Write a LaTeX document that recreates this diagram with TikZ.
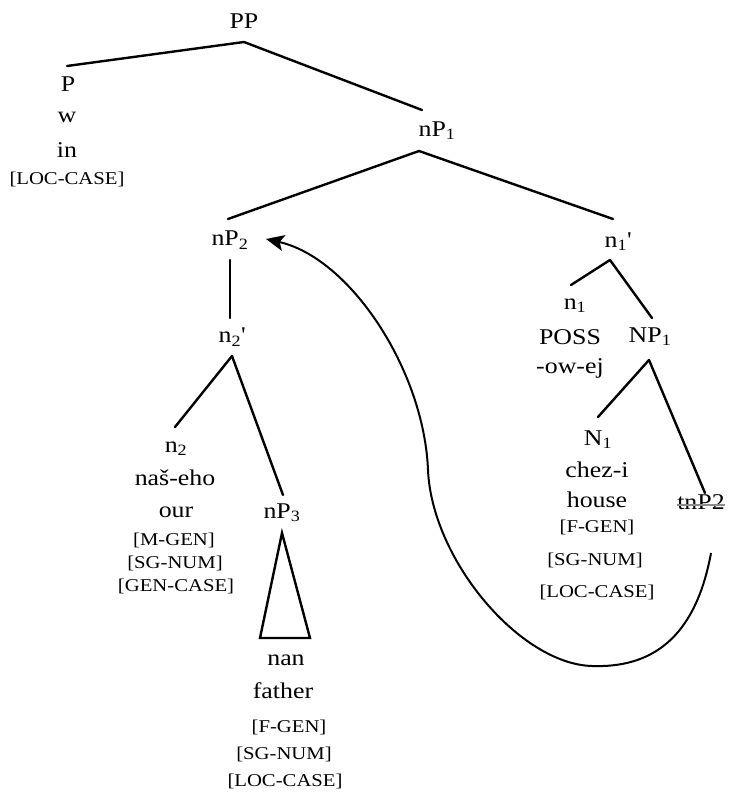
\documentclass[tikz,border=0pt]{standalone}
\usepackage{fontspec}
\setmainfont{Liberation Serif}[FakeStretch=1.15]
\usepackage{tikz}
\usetikzlibrary{arrows.meta,calc}
\usepackage{xcolor}
\definecolor{traceink}{HTML}{8C8C8C}
\tikzset{
  catnode/.style={
    inner sep=0pt,
    font=\fontsize{22.5}{26}\selectfont
  },
  featnode/.style={
    inner sep=0pt,
    font=\fontsize{18}{21}\selectfont
  },
  branch/.style={
    line width=2.4pt,
    line cap=round
  },
  movearrow/.style={
    -{Stealth[length=18pt,width=16pt,inset=4pt]},
    line width=2pt
  }
}
\begin{document}
\begin{tikzpicture}[x=1pt,y=-1pt]
\useasboundingbox (0,0) rectangle (728,792);
% upper spine
\node[catnode] (PP) at (244,21) {PP};
\node[catnode] (P) at (68,84) {P};
\node[catnode] (Pw) at (67,117) {w};
\node[catnode] (Pin) at (67,150) {in};
\node[featnode] (Pcase) at (67,179) {[LOC-CASE]};
\node[catnode] (nP1) at (437,131) {nP\textsubscript{1}};
\node[catnode] (nP2) at (230,240) {nP\textsubscript{2}};
\node[catnode] (n1bar) at (618,242) {n\textsubscript{1}\textquotesingle};
% left branch
\node[catnode] (n2bar) at (232,337) {n\textsubscript{2}\textquotesingle};
\node[catnode] (n2) at (176,449) {n\textsubscript{2}};
\node[catnode] (n2word) at (175,478) {naš-eho};
\node[catnode] (n2gloss) at (176,512) {our};
\node[featnode] (n2gen) at (174,540) {[M-GEN]};
\node[featnode] (n2num) at (175,563) {[SG-NUM]};
\node[featnode] (n2case) at (176,586) {[GEN-CASE]};
\node[catnode] (nP3) at (282,513) {nP\textsubscript{3}};
\node[catnode] (nan) at (286,660) {nan};
\node[catnode] (father) at (283,691) {father};
\node[featnode] (fgen) at (289,727) {[F-GEN]};
\node[featnode] (fnum) at (284,754) {[SG-NUM]};
\node[featnode] (fcase) at (285,781) {[LOC-CASE]};
% right branch
\node[catnode] (n1) at (575,306) {n\textsubscript{1}};
\node[catnode] (poss) at (570,337) {POSS};
\node[catnode] (owej) at (570,368) {-ow-ej};
\node[catnode] (NP1) at (650,337) {NP\textsubscript{1}};
\node[catnode] (N1) at (598,440) {N\textsubscript{1}};
\node[catnode] (chez) at (597,470) {chez-i};
\node[catnode] (house) at (597,500) {house};
\node[featnode] (hgen) at (597,527) {[F-GEN]};
\node[featnode] (hnum) at (595,560) {[SG-NUM]};
\node[featnode] (hcase) at (597,592) {[LOC-CASE]};
\node[catnode] (tnP2) at (701,502) {tnP2};
\draw[traceink, line width=1.5pt] ($(tnP2.west)+(0,3)$) -- ($(tnP2.east)+(0,3)$);

% branches
\draw[branch] ($(PP)+(0,21)$) -- ($(P)+(-1,-18)$);
\draw[branch] ($(PP)+(0,21)$) -- ($(nP1)+(-15,-21)$);
\draw[branch] ($(nP1)+(-18,20)$) -- ($(nP2)+(-2,-21)$);
\draw[branch] ($(nP1)+(-18,20)$) -- ($(n1bar)+(-5,-23)$);
\draw[branch] ($(nP2)+(0,20)$) -- ($(n2bar)+(-2,-19)$);
\draw[branch] ($(n2bar)+(0,19)$) -- ($(n2)+(-1,-22)$);
\draw[branch] ($(n2bar)+(0,19)$) -- ($(nP3)+(1,-18)$);
\draw[branch, line join=miter] ($(nP3)+(0,20)$) -- ($(nan)+(-26,-22)$) -- ($(nan)+(24,-22)$) -- cycle;
\draw[branch] ($(n1bar)+(-8,18)$) -- ($(n1)+(-4,-21)$);
\draw[branch] ($(n1bar)+(-8,18)$) -- ($(NP1)+(2,-19)$);
\draw[branch] ($(NP1)+(-1,23)$) -- ($(N1)+(0,-23)$);
\draw[branch] ($(NP1)+(-1,23)$) -- ($(tnP2)+(4,-9)$);

% movement of nP2
\coordinate (tracestart) at (711,553);
\draw[movearrow] (tracestart) .. controls (695,640) and (650,668) .. (592,666)
  .. controls (520,664) and (432,560) .. (428,470)
  .. controls (424,370) and (350,258) .. ($(nP2)+(36,-1)$);
\end{tikzpicture}
\end{document}
